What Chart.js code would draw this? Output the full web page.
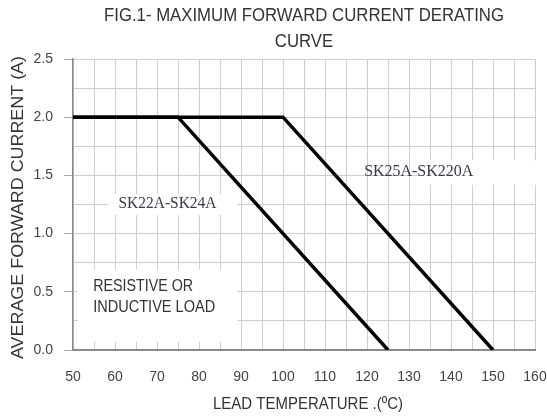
<!DOCTYPE html>
<html>
<head>
<meta charset="utf-8">
<script src="https://cdn.jsdelivr.net/npm/chart.js@4.4.0/dist/chart.umd.min.js"></script>
<style>
  html, body { margin: 0; padding: 0; background: #fff; }
  #wrap { width: 547px; height: 416px; position: relative; }
</style>
</head>
<body>
<div id="wrap"><canvas id="chart"></canvas></div>
<script>
// data
const temps22 = [50, 75, 125];
const current22 = [2.0, 2.0, 0.0];
const temps25 = [50, 100, 150];
const current25 = [2.0, 2.0, 0.0];
const xTicks = [50, 60, 70, 80, 90, 100, 110, 120, 130, 140, 150, 160];
const yTicks = [0.0, 0.5, 1.0, 1.5, 2.0, 2.5];

const titleLines = ['FIG.1- MAXIMUM FORWARD CURRENT DERATING', 'CURVE'];
const xTitle = 'LEAD TEMPERATURE .(\u00BAC)';
const yTitle = 'AVERAGE FORWARD CURRENT (A)';

// labels inside the plot, anchored in data coords; w = width the text is squeezed to
const notes = [
  { text: 'SK22A-SK24A', x: 72.5, y: 1.26, serif: true, w: 98, box: [-10, 2] },
  { text: 'SK25A-SK220A', x: 132.3, y: 1.53, serif: true, w: 109, box: [-10, 2] },
  { text: 'RESISTIVE OR', x: 54.8, y: 0.55, w: 100 },
  { text: 'INDUCTIVE LOAD', x: 54.8, y: 0.37, w: 122 }
];

// white patches behind the in-plot text, data coords [x0, x1, y0, y1]
const patches = [
  [58.5, 89.2, 1.16, 1.34],
  [133.1, 164.3, 1.42, 1.63],
  [51.2, 89.2, 0.07, 0.69]
];

// draw text squeezed horizontally so it fits width w
function squeezed(ctx, text, x, y, font, w, align) {
  ctx.save();
  ctx.font = font;
  const sx = w / ctx.measureText(text).width;
  ctx.translate(x, y);
  ctx.scale(sx, 1);
  ctx.textAlign = align;
  ctx.fillText(text, 0, 0);
  ctx.restore();
}

const patchPlugin = {
  id: 'patches',
  beforeDatasetsDraw(chart) {
    const ctx = chart.ctx;
    const xs = chart.scales.x, ys = chart.scales.y;
    ctx.save();
    ctx.fillStyle = '#fff';
    patches.forEach(p => {
      const x0 = xs.getPixelForValue(p[0]), x1 = xs.getPixelForValue(p[1]);
      const y0 = ys.getPixelForValue(p[3]), y1 = ys.getPixelForValue(p[2]);
      ctx.fillRect(x0, y0, x1 - x0, y1 - y0);
    });
    ctx.restore();
  }
};

const textPlugin = {
  id: 'texts',
  afterDraw(chart) {
    const ctx = chart.ctx;
    const a = chart.chartArea;
    const xs = chart.scales.x, ys = chart.scales.y;
    ctx.save();
    ctx.fillStyle = '#333';
    ctx.textBaseline = 'middle';
    const cx = (a.left + a.right) / 2;
    ctx.font = '18px "Liberation Sans"';
    const sxTitle = 400 / ctx.measureText(titleLines[0]).width;
    titleLines.forEach((t, i) => {
      ctx.save();
      ctx.translate(cx, 16 + i * 26);
      ctx.scale(sxTitle, 1);
      ctx.textAlign = 'center';
      ctx.fillText(t, 0, 0);
      ctx.restore();
    });
    squeezed(ctx, xTitle, 308, 404, '17px "Liberation Sans"', 190, 'center');
    ctx.save();
    ctx.translate(18, (a.top + a.bottom) / 2 + 3);
    ctx.rotate(-Math.PI / 2);
    squeezed(ctx, yTitle, 0, 0, '17px "Liberation Sans"', 303, 'center');
    ctx.restore();
    notes.forEach(n => {
      const px = xs.getPixelForValue(n.x);
      const py = ys.getPixelForValue(n.y);
      const font = n.serif ? '17px "Liberation Serif"' : '17px "Liberation Sans"';
      ctx.fillStyle = n.serif ? '#3a3a48' : '#333';
      squeezed(ctx, n.text, px, py, font, n.w, n.serif ? 'center' : 'left');
    });
    ctx.restore();
  }
};

new Chart(document.getElementById('chart'), {
  type: 'line',
  data: {
    datasets: [
      {
        label: 'SK22A-SK24A',
        data: temps22.map((t, i) => ({ x: t, y: current22[i] })),
        borderColor: '#000', borderWidth: 3.5, pointRadius: 0, tension: 0
      },
      {
        label: 'SK25A-SK220A',
        data: temps25.map((t, i) => ({ x: t, y: current25[i] })),
        borderColor: '#000', borderWidth: 3.5, pointRadius: 0, tension: 0
      }
    ]
  },
  plugins: [patchPlugin, textPlugin],
  options: {
    responsive: true,
    maintainAspectRatio: false,
    animation: false,
    layout: { padding: { top: 59, right: 12, left: 0, bottom: 0 } },
    plugins: { legend: { display: false }, tooltip: { enabled: false } },
    scales: {
      x: {
        type: 'linear',
        min: xTicks[0], max: xTicks[xTicks.length - 1],
        ticks: {
          stepSize: 5,
          autoSkip: false,
          maxRotation: 0,
          padding: 15,
          color: '#444',
          font: { family: 'Liberation Sans', size: 14 },
          callback: v => xTicks.includes(v) ? String(v) : ''
        },
        grid: {
          color: '#cfcfcf',
          lineWidth: 1,
          tickLength: 4,
          tickColor: 'rgba(0,0,0,0)'
        },
        border: { color: '#8a8a8a', width: 2 },
        afterFit: s => { s.height = 66; s.paddingLeft = 0; s.paddingRight = 0; }
      },
      y: {
        min: yTicks[0], max: yTicks[yTicks.length - 1],
        ticks: {
          stepSize: 0.25,
          autoSkip: false,
          padding: 11,
          color: '#444',
          font: { family: 'Liberation Sans', size: 14 },
          callback: v => yTicks.some(t => Math.abs(t - v) < 1e-6) ? v.toFixed(1) : ''
        },
        grid: {
          color: '#cfcfcf',
          lineWidth: 1,
          tickLength: 9,
          tickColor: c => (Math.abs(c.tick.value * 2 - Math.round(c.tick.value * 2)) < 1e-6) ? '#aaa' : 'rgba(0,0,0,0)'
        },
        border: { color: '#8a8a8a', width: 1.5 },
        afterFit: s => { s.width = 73; s.paddingTop = 0; s.paddingBottom = 0; }
      }
    }
  }
});
</script>
</body>
</html>
